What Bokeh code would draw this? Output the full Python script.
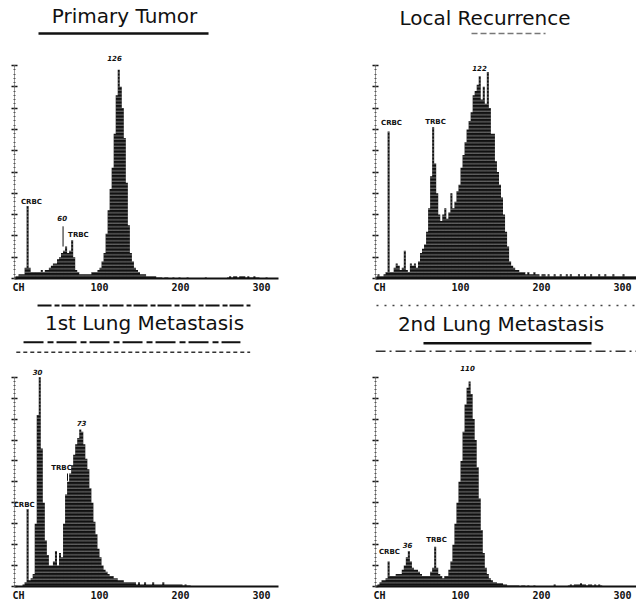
import numpy as np
from bokeh.plotting import figure
from bokeh.models import ColumnDataSource, Label, Range1d, SingleIntervalTicker, FixedTicker
from bokeh.layouts import gridplot
from bokeh.embed import file_html
from bokeh.resources import INLINE

# ---------------- data (relative cell counts, 100 = top of y axis) ----------------
BIN_START = -5.0   # first bin edge, channel units
BIN_WIDTH = 2.5    # channels per bin

PRIMARY_TUMOR = [
    1, 1, 2, 2, 2, 5, 34, 5, 3, 3,
    3, 3, 3, 4, 3, 4, 4, 5, 6, 7,
    7, 9, 10, 12, 13, 15, 12, 13, 18, 10,
    4, 3, 2, 2, 2, 2, 2, 2, 3, 3,
    3, 4, 5, 8, 12, 21, 32, 42, 52, 68,
    86, 98, 90, 80, 66, 45, 25, 12, 8, 5,
    4, 3, 2, 2, 2, 1, 1, 1, 1, 1,
    0.5, 0.5, 0.5, 0, 0.5, 0.5, 0, 0, 0.5, 0,
    0, 0.5, 0, 0, 0, 0.5, 0, 0, 0, 0,
    0, 0, 0, 0, 0.5, 0, 0, 0, 0, 0,
    0, 0, 0, 0, 0, 0.5, 1, 0.5, 1, 1,
    0.5, 1, 1, 1, 0.5, 1, 0.5, 0.5, 1, 0.5,
    0.5, 0, 0, 0, 0.5, 0, 0, 0, 0, 0,
]

LOCAL_RECURRENCE = [
    1, 2, 1, 1, 2, 3, 69, 3, 3, 5,
    7, 6, 4, 5, 13, 4, 3, 7, 6, 7,
    5, 8, 12, 14, 16, 22, 33, 48, 71, 54,
    40, 30, 27, 30, 33, 28, 31, 40, 33, 36,
    41, 44, 52, 58, 64, 70, 74, 78, 86, 88,
    91, 95, 84, 90, 82, 97, 80, 68, 68, 55,
    50, 44, 38, 30, 22, 15, 8, 6, 5, 4,
    4, 3, 3, 3, 2, 3, 2, 2, 3, 2,
    2, 1, 2, 2, 1, 2, 1, 1, 2, 1,
    1, 2, 1, 1, 2, 1, 2, 1, 1, 1,
    2, 1, 1, 2, 1, 1, 2, 1, 1, 1,
    2, 1, 1, 2, 1, 1, 1, 2, 1, 1,
    1, 1, 2, 1, 1, 1, 1, 1, 1, 1,
]

LUNG_MET_1 = [
    0, 0, 0, 0, 1, 2, 37, 3, 4, 6,
    30, 82, 100, 66, 40, 22, 15, 10, 10, 12,
    17, 10, 16, 14, 30, 44, 50, 54, 58, 63,
    68, 71, 75, 74, 68, 61, 56, 47, 40, 31,
    25, 18, 14, 10, 8, 7, 6, 5, 5, 4,
    4, 3, 3, 3, 2, 2, 2, 2, 2, 2,
    1, 2, 1, 1, 2, 1, 1, 1, 2, 1,
    1, 1, 1, 2, 1, 1, 1, 1, 1, 1,
    1, 1, 1, 0.5, 1, 0.5, 0.5, 0, 0, 0,
]

LUNG_MET_2 = [
    0, 1, 2, 3, 3, 4, 12, 5, 5, 5,
    6, 6, 6, 8, 10, 14, 17, 12, 9, 8,
    8, 7, 6, 5, 5, 5, 5, 7, 9, 19,
    9, 6, 5, 4, 5, 5, 8, 12, 20, 30,
    40, 50, 60, 74, 87, 95, 98, 92, 80, 70,
    57, 42, 27, 16, 9, 6, 4, 3, 2, 2,
    1.5, 1.5, 1.5, 1, 1, 0.5, 0.5, 0.5, 0.5, 0.5,
    0.5, 0, 0.5, 0.5, 0, 0.5, 0, 0, 0.5, 0,
    0, 0, 0, 0, 0, 0, 0, 0, 1, 0,
    0, 0, 0, 0, 0, 0.5, 1, 0.5, 1, 1,
    1, 1.5, 1, 1, 0.5, 1, 1, 0.5, 1, 0.5,
    1, 0.5, 0, 0, 0, 0, 0, 0, 0, 0,
]

TITLES = ["Primary Tumor", "Local Recurrence", "1st Lung Metastasis", "2nd Lung Metastasis"]
X_TICKS = [0, 100, 200, 300]
X_TICK_LABELS = ["CH", "100", "200", "300"]
Y_TICK_STEP = 10

# peak annotations: (text, channel, relative height)
PRIMARY_MARKS = [("CRBC", 16, 36), ("60", 54, 28.5), ("TRBC", 74, 20.5), ("126", 118.5, 103.3)]
LOCAL_MARKS = [("CRBC", 14.8, 73.2), ("TRBC", 69.1, 73.7), ("122", 123.5, 98.6)]
LUNG1_MARKS = [("30", 23.5, 102.4), ("73", 77.8, 78.1), ("TRBC", 53.1, 56.7), ("CRBC", 7.0, 39.0)]
LUNG2_MARKS = [("CRBC", 12.3, 16.7), ("36", 34.6, 20.0), ("TRBC", 70.4, 22.4), ("110", 108.6, 104.3)]

# ---------------- layout / style ----------------
PX_PER_CH = 0.81
X_START = -4.0 / PX_PER_CH
FIG_W = 318
INK = "#111111"


def make_panel(title, counts, marks, height, border_left, border_bottom, y_end,
               title_x, title_y, rules, axis_end=None, pointers=()):
    frame_w = FIG_W - border_left
    p = figure(width=FIG_W, height=height, output_backend="svg", toolbar_location=None,
               x_range=Range1d(X_START, X_START + frame_w / PX_PER_CH),
               y_range=Range1d(0, y_end),
               min_border_left=border_left, min_border_right=0,
               min_border_top=0, min_border_bottom=border_bottom)
    p.xgrid.visible = False
    p.ygrid.visible = False
    p.outline_line_color = None
    p.background_fill_color = "white"
    p.border_fill_color = "white"

    counts = np.asarray(counts, dtype=float)
    centers = BIN_START + BIN_WIDTH * (np.arange(len(counts)) + 0.5)
    src = ColumnDataSource(dict(x=centers, top=counts, base=np.zeros_like(counts)))
    p.varea_step(x="x", y1="base", y2="top", step_mode="center", source=src,
                 fill_color=INK,
                 hatch_pattern="horizontal_line", hatch_color="white",
                 hatch_alpha=0.5, hatch_scale=3.5, hatch_weight=0.9)

    # x axis
    xa = p.xaxis[0]
    xa.ticker = FixedTicker(ticks=X_TICKS, minor_ticks=[])
    xa.major_label_overrides = {t: l for t, l in zip(X_TICKS, X_TICK_LABELS)}
    xa.major_tick_in = 0
    xa.major_tick_out = 0
    xa.minor_tick_in = 0
    xa.minor_tick_out = 0
    xa.axis_line_width = 2
    xa.axis_line_color = INK
    xa.major_label_standoff = 3
    xa.major_label_text_font = "DejaVu Sans Mono"
    xa.major_label_text_font_style = "bold"
    xa.major_label_text_font_size = "10px"
    xa.major_label_text_color = INK
    if axis_end is not None:
        xa.bounds = (X_START, axis_end)

    # y axis (no tick labels in the reference)
    ya = p.yaxis[0]
    ya.ticker = SingleIntervalTicker(interval=Y_TICK_STEP, num_minor_ticks=5)
    ya.bounds = (0, 100)
    ya.major_label_text_color = None
    ya.major_label_text_font_size = "1px"
    ya.major_label_standoff = 0
    ya.axis_line_dash = "1 1"
    ya.axis_line_color = "#333333"
    ya.major_tick_in = 3
    ya.major_tick_out = 3
    ya.major_tick_line_width = 1.5
    ya.major_tick_line_color = INK
    ya.minor_tick_in = 1
    ya.minor_tick_out = 1
    ya.minor_tick_line_color = "#555555"

    # title and the rules around it
    p.add_layout(Label(x=title_x, y=title_y, text=title, text_align="center",
                       text_baseline="alphabetic", text_font="DejaVu Sans",
                       text_font_size="20px", text_color=INK))
    for (x0, x1, yy, w, dash, col) in rules:
        p.line([x0, x1], [yy, yy], line_width=w, line_dash=dash, line_color=col)

    for (txt, mx, my) in marks:
        p.add_layout(Label(x=mx, y=my, text=txt, text_align="center",
                           text_baseline="middle", text_font="DejaVu Sans",
                           text_font_style="bold italic" if txt[0].isdigit() else "bold",
                           text_font_size="7px", text_color=INK))
    for (px, y0, y1) in pointers:
        p.line([px, px], [y0, y1], line_width=1, line_color=INK)
    return p


TOP_H, BOT_H = 300, 303

p1 = make_panel(TITLES[0], PRIMARY_TUMOR, PRIMARY_MARKS, TOP_H, 14, 22, 130.52,
                130.9, 123.4,
                [(24.7, 234.6, 115.0, 2.5, "solid", INK)],
                axis_end=321, pointers=[(55, 24.5, 15)])
p2 = make_panel(TITLES[1], LOCAL_RECURRENCE, LOCAL_MARKS, TOP_H, 57, 22, 130.52,
                130.2, 122.3,
                [(113.6, 205, 115.0, 1.5, "6 3", "#777777")])
p3 = make_panel(TITLES[2], LUNG_MET_1, LUNG1_MARKS, BOT_H, 14, 16, 136.67,
                155.6, 125.7,
                [(23.5, 286.4, 134.3, 2, "14 3 5 2", INK),
                 (6.2, 274, 116.7, 2, "20 4 6 3", INK),
                 (-20, 286, 111.9, 1.5, "4 3", "#333333")],
                axis_end=321, pointers=[(60.5, 54.0, 50.5)])
p4 = make_panel(TITLES[3], LUNG_MET_2, LUNG2_MARKS, BOT_H, 57, 16, 136.67,
                150.0, 125.3,
                [(-13.6, 317, 134.3, 1.5, "2 6", "#444444"),
                 (54.3, 261.7, 116.2, 2.5, "solid", INK),
                 (-4.9, 317, 112.4, 1.5, "10 4 2 4", "#333333")])

grid = gridplot([[p1, p2], [p3, p4]], toolbar_location=None)

open("out.html", "w").write(file_html(grid, INLINE))
